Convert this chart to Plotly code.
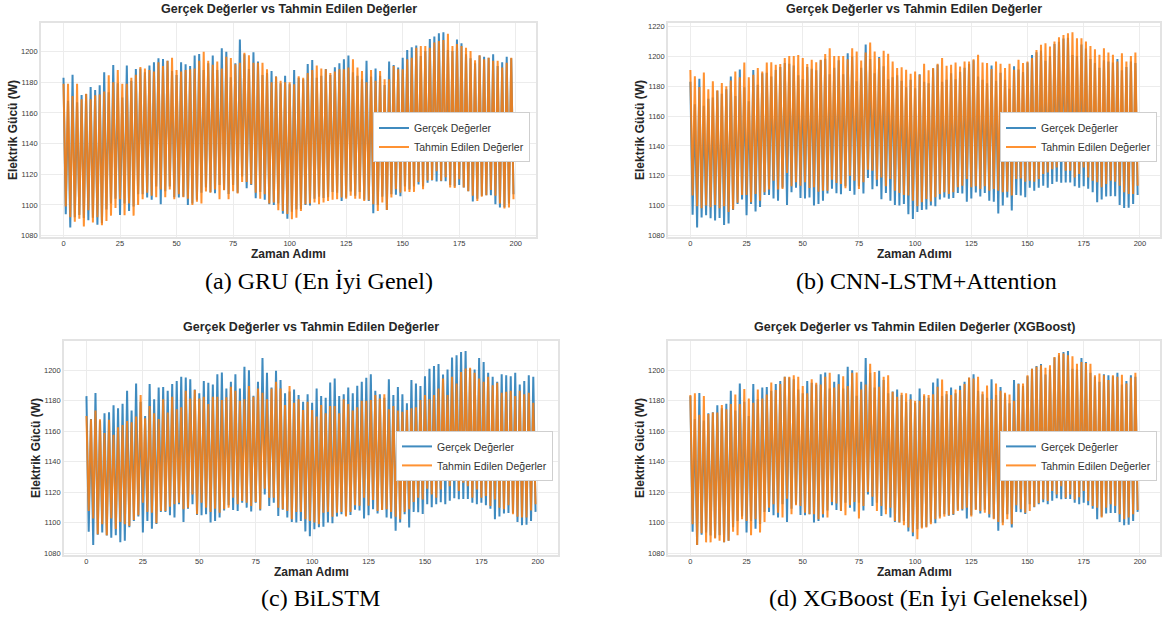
import plotly.graph_objects as go

W, H = 1166, 619

# time steps
zaman_adimi = list(range(200))

# ---- Gerçek Değerler (same actual series in every panel) ----
# even time steps (local peaks)
gercek_tepe = [
    1183, 1168, 1185, 1167, 1171.7, 1172.4, 1177, 1175, 1178, 1186.5,
    1173.5, 1191.3, 1179.3, 1170, 1190.9, 1181, 1188.7, 1189, 1186.5, 1190.9,
    1193, 1195.7, 1195.2, 1194, 1187.4, 1184.8, 1193, 1191.7, 1190.7, 1197.4,
    1198.5, 1188, 1192.4, 1197.4, 1188, 1202.2, 1200, 1183.3, 1192.4, 1208,
    1198.3, 1188.7, 1199.6, 1193.5, 1184.8, 1186, 1187.4, 1183.7, 1179.3, 1184.3,
    1178.7, 1188, 1183, 1182, 1192, 1194.5, 1183, 1184.3, 1188.7, 1184.8,
    1189.8, 1192.4, 1195, 1197.4, 1186.5, 1184.3, 1182, 1194, 1183.7, 1189,
    1184.3, 1178.3, 1193.5, 1191.3, 1189.6, 1196, 1201, 1202.8, 1204, 1197.2,
    1200.4, 1208.3, 1209.8, 1212, 1212.6, 1201, 1200.4, 1208, 1205.4, 1198.3,
    1195.7, 1192.4, 1197.4, 1196.7, 1196, 1198.3, 1190.7, 1193, 1196.7, 1195.7,
]
# odd time steps (local troughs)
gercek_dip = [
    1093.9, 1085.2, 1092, 1093.5, 1091.5, 1090, 1091.7, 1087, 1088, 1097,
    1101, 1104, 1093.5, 1101, 1096, 1099, 1107, 1107, 1104.8, 1103.3,
    1112, 1100.4, 1109, 1112, 1105, 1104.8, 1105.4, 1100, 1101, 1103.3,
    1108, 1111.3, 1108.3, 1107.6, 1113, 1109.8, 1107.2, 1113, 1108, 1118.5,
    1110.9, 1113, 1104.3, 1108.5, 1103.3, 1100.4, 1100, 1101, 1094.2, 1091,
    1095.6, 1097, 1097.3, 1100, 1099.6, 1104, 1105.4, 1104.5, 1105, 1108.4,
    1108, 1102.6, 1104.8, 1108.7, 1106, 1108.4, 1103.3, 1102.6, 1094.6, 1100,
    1105.4, 1096.7, 1107, 1106.7, 1105.6, 1112, 1110, 1112, 1113.3, 1112,
    1114.4, 1116, 1115.3, 1115.5, 1115.4, 1113, 1112, 1113, 1111.3, 1109,
    1102.2, 1104, 1106, 1106.3, 1106.3, 1100.4, 1098.3, 1098.5, 1101, 1107,
]

# ---- (a) GRU predictions ----
gru_tepe = [
    1179, 1179, 1171, 1179, 1169, 1172.6, 1169, 1171.5, 1172, 1174,
    1184.6, 1180, 1188, 1179, 1179, 1183, 1185, 1190, 1189, 1188,
    1187, 1193, 1190.6, 1194, 1196, 1188, 1187, 1188, 1188.5, 1189,
    1194, 1200, 1194, 1191.5, 1193.5, 1189, 1196.7, 1195.9, 1191.7, 1192.8,
    1199.3, 1197.6, 1192.8, 1192.8, 1192.8, 1188.5, 1180, 1183.7, 1181, 1180,
    1180, 1178.7, 1184, 1183, 1186, 1188, 1191, 1189, 1188.5, 1186,
    1187, 1188.5, 1188.5, 1189.6, 1195, 1189.6, 1187.4, 1180, 1188, 1181,
    1187.4, 1182, 1182, 1190.6, 1188.5, 1188.5, 1195, 1196, 1202.6, 1203.7,
    1203.7, 1202.6, 1206, 1207, 1207.6, 1211.7, 1203.7, 1205, 1203.7, 1202.6,
    1200.4, 1194.3, 1197.6, 1195, 1196, 1194, 1194, 1189.6, 1192.8, 1196,
]
gru_dip = [
    1099, 1092, 1089, 1091, 1086, 1096.5, 1088.5, 1092, 1086.7, 1089.5,
    1093, 1098, 1103.7, 1093.3, 1101, 1093, 1100, 1103.7, 1108, 1106,
    1105, 1110, 1105, 1110, 1103.7, 1107, 1105, 1104, 1100, 1102,
    1101, 1108.7, 1108, 1110, 1103.7, 1109.6, 1103.7, 1109, 1107.4, 1115,
    1115, 1113.5, 1108, 1104, 1107, 1101, 1101.5, 1096.5, 1096, 1094,
    1090.6, 1091.7, 1096, 1100.4, 1101, 1101.5, 1100.4, 1101.5, 1102.6, 1103.3,
    1103.7, 1104.8, 1104, 1106, 1104, 1104, 1102.6, 1103, 1100.4, 1096,
    1101.5, 1096.7, 1104.8, 1110.2, 1108, 1108.7, 1108.5, 1108.5, 1115, 1110.2,
    1116, 1116.3, 1122, 1115.7, 1118, 1111.3, 1111, 1116.7, 1111.3, 1109,
    1106, 1102.6, 1105.4, 1106.3, 1109.8, 1106, 1101, 1097.6, 1098.3, 1103.7,
]

# ---- (b) CNN-LSTM+Attention predictions ----
cnn_tepe = [
    1191, 1186.7, 1179.6, 1189.3, 1178, 1183.3, 1177.3, 1182.2, 1180, 1183.8,
    1190, 1186, 1196, 1186, 1187.8, 1192.2, 1190, 1196, 1196.2, 1194.4,
    1195, 1198.9, 1200.4, 1200.4, 1201, 1198.9, 1195, 1197.8, 1196.2, 1197.8,
    1201.6, 1205.6, 1200.4, 1200.4, 1200.4, 1198.2, 1205.6, 1203.3, 1197.3, 1202.7,
    1209.3, 1203.3, 1198.9, 1203.8, 1201.8, 1196.7, 1192.2, 1192.7, 1191.1, 1188.4,
    1190, 1187.8, 1195.1, 1190.7, 1192.2, 1195.1, 1198.9, 1193.8, 1194.4, 1196,
    1193.3, 1196.7, 1196.7, 1198.2, 1201.1, 1196, 1195.6, 1191.6, 1196.7, 1195.1,
    1192.2, 1195.1, 1191.1, 1197.8, 1195.6, 1196.7, 1198.9, 1204.4, 1207.8, 1208.9,
    1206.7, 1210, 1212.9, 1214.4, 1215.6, 1216.2, 1212.2, 1212.2, 1210, 1207.1,
    1204.9, 1201.1, 1205.6, 1202.7, 1201.1, 1196.7, 1202.2, 1196.7, 1200.4, 1202.7,
]
cnn_dip = [
    1106.7, 1099.6, 1098.2, 1100, 1098.9, 1100.4, 1098.2, 1099.6, 1095.6, 1097.3,
    1101.8, 1107.1, 1107.1, 1102.2, 1107.8, 1103.3, 1108.9, 1110.7, 1116.7, 1110.7,
    1111.1, 1121.8, 1112.9, 1115.6, 1113.3, 1115.6, 1111.8, 1112.2, 1109.3, 1110,
    1110, 1117.3, 1115.1, 1114.4, 1111.6, 1120, 1116.7, 1111.1, 1115.6, 1124,
    1123.3, 1117.3, 1118.9, 1112.9, 1117.8, 1110, 1108.4, 1107.1, 1106.7, 1103.3,
    1099.6, 1102.2, 1104.4, 1102.7, 1105.6, 1107.8, 1108.9, 1107.8, 1108.9, 1112.2,
    1113.3, 1117.8, 1112.2, 1112.9, 1111.1, 1112.9, 1110, 1111.1, 1110, 1108.9,
    1109.3, 1106.7, 1117.8, 1118.2, 1116, 1116.7, 1116, 1117.8, 1121.1, 1122.2,
    1124.4, 1125.6, 1131.6, 1123.3, 1123.3, 1118.9, 1121.1, 1125.6, 1118.9, 1116.7,
    1115.6, 1112.2, 1114.4, 1116.7, 1116, 1113.3, 1108.9, 1107.8, 1107.8, 1113.3,
]

# ---- (c) BiLSTM predictions ----
bilstm_tepe = [
    1170, 1167.8, 1173.5, 1167.8, 1158.7, 1167.4, 1157.6, 1162.6, 1164.1, 1166.7,
    1165.9, 1169.6, 1183.7, 1168.5, 1176.5, 1171.7, 1168, 1180.9, 1172.2, 1182.6,
    1174.3, 1175.7, 1186.5, 1181.5, 1187, 1181.5, 1182.6, 1177.8, 1182.6, 1182.6,
    1180.4, 1182.2, 1189.1, 1186.5, 1180, 1180.9, 1189.6, 1182.6, 1188, 1185.2,
    1180.9, 1188, 1192.4, 1188, 1177.2, 1189.6, 1178.7, 1180.9, 1173.9, 1179.3,
    1173.9, 1169.6, 1177.2, 1171.7, 1176.5, 1176.5, 1171.7, 1180.9, 1177.8, 1173.5,
    1175.7, 1180, 1180, 1180.4, 1183.7, 1181.5, 1184.3, 1174.3, 1176.5, 1173.5,
    1172.8, 1173.9, 1175, 1175.7, 1180.4, 1183.7, 1180.9, 1183.7, 1188, 1194.6,
    1183.7, 1195.7, 1191.3, 1198.9, 1201.1, 1201.7, 1198.3, 1194.6, 1192.4, 1195.7,
    1190.2, 1191.7, 1185.2, 1185.9, 1186.5, 1183, 1186.5, 1184.3, 1185.2, 1178.7,
]
bilstm_dip = [
    1107.6, 1102.6, 1092.4, 1098.9, 1091.7, 1102.6, 1095.7, 1100.4, 1098.9, 1097.8,
    1101.7, 1104.8, 1113, 1107, 1106.5, 1099.6, 1107.6, 1107.6, 1110.4, 1112,
    1113, 1108.7, 1109.8, 1118.5, 1105.4, 1113, 1109.8, 1107, 1109.1, 1106.5,
    1108.7, 1109.8, 1116.3, 1112, 1114.1, 1113, 1110.9, 1113.5, 1108.7, 1122.2,
    1116.3, 1116.3, 1109.8, 1108.7, 1107.6, 1102.2, 1107, 1107, 1102.2, 1101.1,
    1100, 1098.9, 1106.5, 1107, 1103.9, 1106.5, 1107, 1104, 1107, 1111.3,
    1111, 1116.3, 1111, 1114.8, 1107.6, 1108.3, 1108.7, 1107, 1103.9, 1102.2,
    1107, 1108.7, 1113.5, 1116.3, 1115.2, 1122.2, 1118.5, 1116.3, 1121.7, 1128.3,
    1123.9, 1128.3, 1120.7, 1126.1, 1123.9, 1116.3, 1121.7, 1116.3, 1117.4, 1110.9,
    1115.2, 1109.8, 1108.7, 1111.3, 1105.4, 1103.9, 1103.3, 1103.3, 1108, 1112,
]

# ---- (d) XGBoost predictions ----
xgb_tepe = [
    1183.7, 1184.8, 1170.7, 1183, 1171.3, 1172.2, 1172.2, 1177.2, 1174.3, 1177.8,
    1184.1, 1177.8, 1187.6, 1181.5, 1178.7, 1187.4, 1181.5, 1184.1, 1192, 1187,
    1190.9, 1195.7, 1195.7, 1196.7, 1195.7, 1189.6, 1184.8, 1194.1, 1191.7, 1190.7,
    1195.7, 1198.3, 1188.7, 1190.9, 1196.1, 1189.6, 1198.3, 1198.5, 1187.4, 1190.7,
    1204.3, 1198.9, 1189.1, 1195.7, 1196.7, 1185.9, 1182.6, 1185.2, 1184.8, 1180.9,
    1180, 1180, 1184.3, 1183.7, 1184.3, 1189.1, 1193.9, 1186.3, 1183.7, 1187.4,
    1187, 1190.9, 1195.2, 1194.6, 1195.7, 1186, 1190, 1180.9, 1191.3, 1186.5,
    1185.2, 1184.1, 1180, 1190.9, 1191.3, 1196.7, 1201, 1202.2, 1203.3, 1201.7,
    1203.3, 1208.7, 1211.3, 1210.9, 1209.8, 1209.1, 1204.3, 1205.4, 1204.8, 1204.3,
    1196.7, 1197.8, 1196.7, 1193.5, 1196.7, 1195.7, 1197, 1191.3, 1195.2, 1198.3,
]
xgb_dip = [
    1098.9, 1085.2, 1093, 1087, 1087, 1089.6, 1088, 1087, 1088, 1093.9,
    1091.7, 1102.2, 1101, 1091.7, 1102.2, 1093.5, 1100.4, 1109.8, 1112, 1106.5,
    1103.3, 1115.7, 1105.4, 1111.3, 1110.9, 1106.5, 1105.4, 1105.4, 1102.2, 1105.4,
    1103.3, 1113.5, 1112.6, 1107.6, 1104.8, 1111.3, 1113.5, 1102.6, 1110.9, 1120,
    1117, 1107.6, 1110.9, 1105.4, 1109.8, 1101, 1100, 1098.3, 1096.7, 1093.5,
    1089.1, 1096.1, 1096.7, 1098.9, 1102.2, 1102.6, 1103.9, 1104.8, 1105.4, 1107.6,
    1108.7, 1109.8, 1103.9, 1108.3, 1107.6, 1106.5, 1105.4, 1102.2, 1100.4, 1098.3,
    1102.2, 1098.9, 1111.3, 1108.7, 1106.5, 1107.6, 1110.4, 1112.6, 1115.2, 1114.1,
    1120.7, 1118.5, 1123.9, 1116.3, 1118.5, 1115.2, 1116.7, 1120.7, 1114.1, 1110.9,
    1109.8, 1103.3, 1109.8, 1112, 1110.9, 1105.4, 1102.2, 1103.3, 1105.4, 1108.3,
]

basliklar = [
    "Gerçek Değerler vs Tahmin Edilen Değerler",
    "Gerçek Değerler vs Tahmin Edilen Değerler",
    "Gerçek Değerler vs Tahmin Edilen Değerler",
    "Gerçek Değerler vs Tahmin Edilen Değerler (XGBoost)",
]
altyazilar = [
    "(a) GRU (En İyi Genel)",
    "(b) CNN-LSTM+Attention",
    "(c) BiLSTM",
    "(d) XGBoost (En İyi Geleneksel)",
]
seri_adlari = ["Gerçek Değerler", "Tahmin Edilen Değerler"]
x_baslik = "Zaman Adımı"
y_baslik = "Elektrik Gücü (W)"
x_tikler = [0, 25, 50, 75, 100, 125, 150, 175, 200]


def birlestir(tepe, dip):
    out = []
    for a, b in zip(tepe, dip):
        out.append(a)
        out.append(b)
    return out


gercek = birlestir(gercek_tepe, gercek_dip)
tahminler = [
    birlestir(gru_tepe, gru_dip),
    birlestir(cnn_tepe, cnn_dip),
    birlestir(bilstm_tepe, bilstm_dip),
    birlestir(xgb_tepe, xgb_dip),
]

# layout geometry (pixels): left, right, top, bottom of each plot area
panels_px = [
    (41, 536, 22.7, 238.5),
    (668, 1160, 22.7, 238.5),
    (64, 558, 343, 557.5),
    (668, 1160, 343, 557.5),
]
legend_px = [(530, 113), (1157, 113), (553, 433), (1157, 433)]
caption_px = [(319, 282), (926, 282), (320, 601), (928, 601)]

BLUE = "#1f77b4"
ORANGE = "#ff7f0e"
TXT = "#262626"
SANS = "Liberation Sans, Arial, sans-serif"
SERIF = "Liberation Serif, Times New Roman, serif"


def px_x(v):
    return v / W


def px_y(v):
    return 1 - v / H


fig = go.Figure()
annotations = []
layout_extra = {}

for i in range(4):
    sfx = "" if i == 0 else str(i + 1)
    xa, ya = "x" + sfx, "y" + sfx
    leg = "legend" + sfx
    tahmin = tahminler[i]
    fig.add_trace(go.Scatter(
        x=zaman_adimi, y=gercek, mode="lines", name=seri_adlari[0],
        line=dict(color=BLUE, width=2), opacity=0.85,
        xaxis=xa, yaxis=ya, legend=leg, hoverinfo="skip"))
    fig.add_trace(go.Scatter(
        x=zaman_adimi, y=tahmin, mode="lines", name=seri_adlari[1],
        line=dict(color=ORANGE, width=2), opacity=0.85,
        xaxis=xa, yaxis=ya, legend=leg, hoverinfo="skip"))

    lo = min(min(gercek), min(tahmin))
    hi = max(max(gercek), max(tahmin))
    pad = 0.05 * (hi - lo)
    y_tikler = list(range(1080, int(hi + pad) + 1, 20))

    l, r, t, b = panels_px[i]
    axis_common = dict(
        showgrid=True, gridcolor="#ececec", gridwidth=1,
        showline=True, mirror=True, linecolor="#e3e3e3", linewidth=1.6,
        zeroline=False, ticks="",
        tickfont=dict(family=SANS, size=7.5, color="#3a3a3a"),
    )
    layout_extra["xaxis" + sfx] = dict(
        axis_common, domain=[px_x(l), px_x(r)], anchor=ya,
        range=[-9.95, 208.95], tickmode="array", tickvals=x_tikler,
        ticklabelstandoff=-2)
    layout_extra["yaxis" + sfx] = dict(
        axis_common, domain=[px_y(b), px_y(t)], anchor=xa,
        range=[lo - pad, hi + pad], tickmode="array", tickvals=y_tikler)

    lx, ly = legend_px[i]
    layout_extra[leg] = dict(
        x=px_x(lx), y=px_y(ly), xanchor="right", yanchor="top",
        bgcolor="white", bordercolor="#cfcfcf", borderwidth=1,
        font=dict(family=SANS, size=10.5, color="#333333"),
        itemwidth=30, tracegroupgap=0)

    cx = (l + r) / 2
    # title
    annotations.append(dict(
        text="<b>" + basliklar[i] + "</b>", x=px_x(cx), y=px_y(t - 14),
        xref="paper", yref="paper", showarrow=False, xanchor="center", yanchor="middle",
        font=dict(family=SANS, size=12.5, color=TXT)))
    # x-axis title
    annotations.append(dict(
        text="<b>" + x_baslik + "</b>", x=px_x(cx), y=px_y(b + 17),
        xref="paper", yref="paper", showarrow=False, xanchor="center", yanchor="middle",
        font=dict(family=SANS, size=12, color=TXT)))
    # y-axis title
    annotations.append(dict(
        text="<b>" + y_baslik + "</b>", x=px_x(l - 28), y=px_y((t + b) / 2),
        xref="paper", yref="paper", showarrow=False, xanchor="center", yanchor="middle",
        textangle=-90, font=dict(family=SANS, size=12, color=TXT)))
    # caption
    capx, capy = caption_px[i]
    annotations.append(dict(
        text=altyazilar[i], x=px_x(capx), y=px_y(capy),
        xref="paper", yref="paper", showarrow=False, xanchor="center", yanchor="middle",
        font=dict(family=SERIF, size=24, color="black")))

fig.update_layout(
    width=W, height=H, margin=dict(l=0, r=0, t=0, b=0),
    paper_bgcolor="white", plot_bgcolor="white",
    showlegend=True, annotations=annotations, **layout_extra)

fig.write_html(
    "out.html",
    config={"displayModeBar": False},
    post_script="document.body.style.margin='0px';document.body.style.overflow='hidden';",
)
